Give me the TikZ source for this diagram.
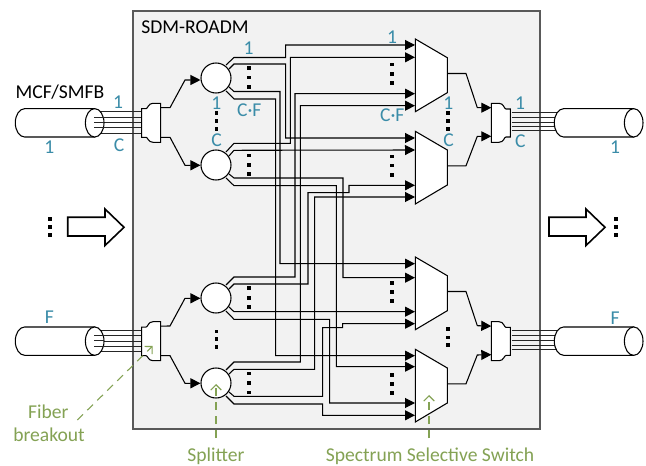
\documentclass[tikz,border=0pt]{standalone}
\usepackage{fontspec}
\setmainfont{Carlito}
\usetikzlibrary{arrows.meta}
\definecolor{teal1}{HTML}{3A8CA8}
\definecolor{green1}{HTML}{84A254}
\definecolor{boxgray}{HTML}{F2F2F2}
\definecolor{boxedge}{HTML}{595959}
\tikzset{
  x=0.75pt,y=-0.75pt,
  wire/.style={draw=black,line width=0.8pt,line join=miter},
  feed/.style={wire,-{Triangle[length=7.5pt,width=7.5pt]}},
  part/.style={draw=black,line width=0.8pt,fill=white},
  fibre/.style={draw=black!85,line width=0.75pt},
  split/.style={circle,draw=black,line width=0.8pt,fill=white,minimum size=22.5pt,inner sep=0pt},
  idx/.style={text=teal1,font=\fontsize{14.7}{14.7}\selectfont,inner sep=0pt},
  plain/.style={text=black,font=\fontsize{14.7}{14.7}\selectfont,inner sep=0pt},
  call/.style={text=green1,font=\fontsize{14.7}{14.7}\selectfont,inner sep=0pt},
  leader/.style={draw=green1,line width=0.8pt,dash pattern=on 6pt off 4.5pt,-{Straight Barb[length=4pt,width=8pt]}},
  bigarrow/.style={draw=black,line width=1.2pt,fill=white,line join=miter},
  dotmark/.style={fill=black,inner sep=0pt,minimum size=2.7pt,rectangle},
}
% vertical ellipsis of three square dots: x, y1, y2, y3
\newcommand\vdotsat[4]{%
  \node[dotmark] at (#1,#2) {};\node[dotmark] at (#1,#3) {};\node[dotmark] at (#1,#4) {};}
% SSS: name, top y
\newcommand\sswitch[2]{%
  \begin{scope}[shift={(0,#2)}]
    \draw[part] (415.3,0) -- (447.3,18.7) -- (447.3,53.7) -- (415.3,72.7) -- cycle;
    \coordinate (#1out) at (447.3,34.5);
  \end{scope}}
% input-side breakout: name, y shift
\newcommand\brkin[2]{%
  \begin{scope}[shift={(0,#2)}]
    \foreach \yy/\xs in {112/100,117.3/94,122.7/94,128/94,133.3/100}{\draw[fibre] (\xs,\yy) -- (142,\yy);}
    \draw[part] (141.7,108.7) -- (146,108.7) .. controls (148,108.7) and (148,103.3) .. (153,103.3) -- (160.7,103.3)
      -- (160.7,142.3) -- (153,142.3) .. controls (148,142.3) and (148,137.3) .. (146,137.3) -- (141.7,137.3) -- cycle;
    \coordinate (#1a) at (160.7,107.7);
    \coordinate (#1b) at (160.7,137.3);
  \end{scope}}
% output-side breakout
\newcommand\brkout[2]{%
  \begin{scope}[shift={(0,#2)}]
    \draw[part] (510.3,109) -- (506,109) .. controls (504,109) and (504,103.3) .. (499,103.3) -- (491.3,103.3)
      -- (491.3,142.3) -- (499,142.3) .. controls (504,142.3) and (504,137) .. (506,137) -- (510.3,137) -- cycle;
    \coordinate (#1a) at (491.3,107.7);
    \coordinate (#1b) at (491.3,136.3);
    \foreach \yy in {112.3,117.3,122.3,126.7,131}{\draw[fibre] (511.7,\yy) -- (557,\yy);}
  \end{scope}}
% fibre cable: x of left end, y shift
\newcommand\cable[2]{%
  \begin{scope}[shift={(#1,#2)}]
    \draw[part] (9.3,108.7) .. controls (4.2,108.7) and (0,115) .. (0,122.85) .. controls (0,130.7) and (4.2,137) .. (9.3,137)
      -- (79.4,137) -- (79.4,108.7) -- cycle;
    \draw[part] (79.4,122.85) ellipse [x radius=9.3,y radius=14.2];
  \end{scope}}
\begin{document}
\begin{tikzpicture}
\useasboundingbox (0,0) rectangle (646,466);
\fill[white] (0,0) rectangle (646,466);
\draw[draw=boxedge,fill=boxgray,line width=1pt] (133,11) rectangle (540,429);
\node[plain] (title) at (195,27) {SDM-ROADM};

% cables and breakouts
\brkin{bi}{0}
\brkin{bj}{218.4}
\cable{15.3}{0}
\cable{15.3}{218.3}
% short fibres over the cable mouth
\foreach \yy in {117.3,122.7,128}{\draw[fibre] (94,\yy) -- (104,\yy);}
\foreach \yy in {335.6,341,346.3}{\draw[fibre] (94,\yy) -- (104,\yy);}
\brkout{bo}{0}
\brkout{bp}{218.4}
\cable{554.3}{0}
\cable{554.3}{218.3}

% splitter anchors
\foreach \n/\yy/\a/\b/\c/\d in {c1/78/65/69/87/91,c2/165/152/156/174/178,c3/298/285/289/307/311,c4/383/370/374/392/396}{
  \coordinate (\n pa) at (226,\a);
  \coordinate (\n pb) at (229,\b);
  \coordinate (\n pc) at (229,\c);
  \coordinate (\n pd) at (226,\d);
}
% switch inputs
\foreach \n/\a/\b/\c/\d in {s1/45/57.3/93.7/105.7,s2/138/150/185.3/197,s3/263.7/277.7/311.7/323.7,s4/355.7/366.7/403/415.3}{
  \coordinate (\n i1) at (415,\a);
  \coordinate (\n i2) at (415,\b);
  \coordinate (\n i3) at (415,\c);
  \coordinate (\n i4) at (415,\d);
}

% splitter to switch wires
\draw[feed] (c1pa) -- (234,57.5) -- (285.7,57.5) -- (285.7,45) -- (s1i1);
\draw[feed] (c1pb) -- (234,64) -- (285.7,64) -- (285.7,138) -- (s2i1);
\draw[feed] (c1pc) -- (234,91.5) -- (280,91.5) -- (280,263.7) -- (s3i1);
\draw[feed] (c1pd) -- (234,99) -- (275.7,99) -- (275.7,355.7) -- (s4i1);

\draw[feed] (c2pa) -- (234,143.3) -- (290.3,143.3) -- (290.3,57.3) -- (s1i2);
\draw[feed] (c2pb) -- (234,150.3) -- (s2i2);
\draw[feed] (c2pc) -- (234,178) -- (343,178) -- (343,277.7) -- (s3i2);
\draw[feed] (c2pd) -- (234,185.7) -- (336.3,185.7) -- (336.3,366.7) -- (s4i2);

\draw[feed] (c3pa) -- (234,277) -- (295,277) -- (295,93.7) -- (s1i3);
\draw[feed] (c3pb) -- (234,284) -- (308,284) -- (308,192.7) -- (349,192.7) -- (349,185.3) -- (s2i3);
\draw[feed] (c3pc) -- (234,311.7) -- (s3i3);
\draw[feed] (c3pd) -- (234,319.3) -- (329.7,319.3) -- (329.7,403) -- (s4i3);

\draw[feed] (c4pa) -- (234,362) -- (300.3,362) -- (300.3,105.7) -- (s1i4);
\draw[feed] (c4pb) -- (234,369.3) -- (314.7,369.3) -- (314.7,197) -- (s2i4);
\draw[feed] (c4pc) -- (234,396.3) -- (322.7,396.3) -- (322.7,327.7) -- (342.7,327.7) -- (342.7,323.7) -- (s3i4);
\draw[feed] (c4pd) -- (234,404) -- (322.7,404) -- (322.7,415.3) -- (s4i4);

% splitters
\node[split] (c1) at (216,78) {};
\node[split] (c2) at (216,165) {};
\node[split] (c3) at (216,298) {};
\node[split] (c4) at (216,383) {};

% breakout to splitter
\draw[feed] (bia) -- (170,107.7) -- (185,80) -- (c1.west |- 0,80);
\draw[feed] (bib) -- (170,137.3) -- (185,165.3) -- (c2.west |- 0,165.3);
\draw[feed] (bja) -- (170,326) -- (185,298.3) -- (c3.west |- 0,298.3);
\draw[feed] (bjb) -- (170,355.7) -- (185,383.3) -- (c4.west |- 0,383.3);

% switches
\sswitch{s1}{39}
\sswitch{s2}{131.3}
\sswitch{s3}{257}
\sswitch{s4}{349.3}

% switch to breakout
\draw[feed] (s1out) -- (466,73.5) -- (477.3,107.7) -- (boa);
\draw[feed] (s2out) -- (466,165.8) -- (477.3,136.3) -- (bob);
\draw[feed] (s3out) -- (466,291.5) -- (477.3,325.7) -- (bpa);
\draw[feed] (s4out) -- (466,383.8) -- (477.3,355) -- (bpb);

% block arrows
\draw[bigarrow] (67.7,217.3) -- (105,217.3) -- (105,209) -- (124,227.3) -- (105,245.5) -- (105,236) -- (67.7,236) -- cycle;
\draw[bigarrow] (549,217.3) -- (586,217.3) -- (586,209) -- (605,227.3) -- (586,245.5) -- (586,236) -- (549,236) -- cycle;

% dots
\vdotsat{50}{219}{227.3}{235.3}
\vdotsat{615.7}{219}{227.3}{235.3}
\vdotsat{248.7}{68.3}{77.7}{87}
\vdotsat{248.7}{155.7}{165}{174.3}
\vdotsat{248.7}{288.3}{298}{307}
\vdotsat{248.7}{373.7}{383}{392.7}
\vdotsat{216.3}{113}{121}{129}
\vdotsat{216.3}{331.7}{339.3}{347.3}
\vdotsat{392}{64.7}{74}{83.3}
\vdotsat{392}{156.7}{165.7}{175.3}
\vdotsat{392}{283}{292.3}{301.3}
\vdotsat{392}{375}{384}{393.3}
\vdotsat{447.7}{113}{121}{129}
\vdotsat{447.7}{329}{337.5}{345.3}

% labels
\node[plain] (mcf) at (60,92.3) {MCF/SMFB};
\node[idx] (l1) at (118,101.7) {1};
\node[idx] (l2) at (119,145) {C};
\node[idx] (l3) at (49.3,147.3) {1};
\node[idx] (l4) at (248.7,47.7) {1};
\node[idx] (l5) at (249.3,110) {C·F};
\node[idx] (l6) at (216.3,102.7) {1};
\node[idx] (l7) at (216.7,140) {C};
\node[idx] (l8) at (392,37.3) {1};
\node[idx] (l9) at (392.3,115) {C·F};
\node[idx] (l10) at (448.3,103.3) {1};
\node[idx] (l11) at (448.7,140) {C};
\node[idx] (l12) at (520,102.7) {1};
\node[idx] (l13) at (520.3,141.7) {C};
\node[idx] (l14) at (615,147.3) {1};
\node[idx] (l15) at (49.3,317.3) {F};
\node[idx] (l16) at (615,318.3) {F};

% callouts
\node[call] (fb1) at (48.3,411.7) {Fiber};
\node[call] (fb2) at (49,435) {breakout};
\node[call] (spl) at (216,456) {Splitter};
\node[call] (sss) at (430,456) {Spectrum Selective Switch};
\coordinate (fbs) at (77.3,420);
\coordinate (fbe) at (152.7,346);
\coordinate (sps) at (216,438);
\coordinate (spe) at (216,384);
\coordinate (sss1) at (429,438);
\coordinate (sse) at (429,395);
\draw[leader] (fbs) -- (fbe);
\draw[leader] (sps) -- (spe);
\draw[leader] (sss1) -- (sse);
\end{tikzpicture}
\end{document}
